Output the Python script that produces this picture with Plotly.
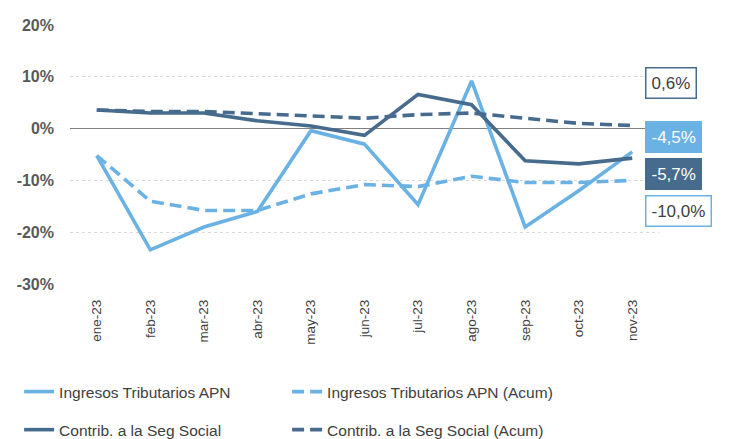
import plotly.graph_objects as go

months = ["ene-23", "feb-23", "mar-23", "abr-23", "may-23", "jun-23",
          "jul-23", "ago-23", "sep-23", "oct-23", "nov-23"]
ingresos = [-5.2, -23.4, -19.0, -16.0, -0.4, -3.0, -14.7, 9.2, -19.0, -12.0, -4.5]
ingresos_acum = [-5.2, -14.0, -15.8, -15.8, -12.6, -10.8, -11.2, -9.2, -10.4, -10.4, -10.0]
contrib = [3.6, 3.0, 3.0, 1.5, 0.5, -1.3, 6.6, 4.6, -6.2, -6.8, -5.7]
contrib_acum = [3.6, 3.3, 3.3, 2.9, 2.4, 2.0, 2.7, 3.0, 2.0, 1.0, 0.6]
y_ticks = [-30, -20, -10, 0, 10, 20]
y_tick_labels = ["-30%", "-20%", "-10%", "0%", "10%", "20%"]

LIGHT = "#6AB2E4"
DARK = "#466B8D"
FONT = "Liberation Sans, Arial, sans-serif"

fig = go.Figure()
series = [
    ("Ingresos Tributarios APN", ingresos, LIGHT, "solid", "legend"),
    ("Ingresos Tributarios APN (Acum)", ingresos_acum, LIGHT, "12px,6px", "legend"),
    ("Contrib. a la Seg Social", contrib, DARK, "solid", "legend2"),
    ("Contrib. a la Seg Social (Acum)", contrib_acum, DARK, "12px,6px", "legend2"),
]
for name, vals, col, dash, leg in series:
    fig.add_trace(go.Scatter(x=months, y=vals, mode="lines", name=name,
                             line=dict(color=col, width=3.6, dash=dash),
                             legend=leg))

# end labels
labels = [
    (contrib_acum, "white", DARK, "#404040", 42),
    (ingresos, LIGHT, LIGHT, "white", 15),
    (contrib, DARK, DARK, "white", -16),
    (ingresos_acum, "white", LIGHT, "#404040", -31),
]
for vals, bg, border, fc, ys in labels:
    txt = f"{vals[-1]:.1f}%".replace(".", ",")
    fig.add_annotation(x=months[-1], y=vals[-1], text=txt, showarrow=False,
                       xanchor="left", xshift=13, yshift=ys,
                       bgcolor=bg, bordercolor=border, borderwidth=1.5,
                       borderpad=5, font=dict(family=FONT, size=17, color=fc))

# the page body has an 8px default margin, so margins are shifted accordingly
fig.update_layout(
    width=731, height=439,
    margin=dict(l=62, r=80, t=17, b=163, autoexpand=False),
    plot_bgcolor="white", paper_bgcolor="white",
    font=dict(family=FONT, color="#595959"),
    xaxis=dict(type="category", range=[-0.5, 10.5], tickangle=-90,
               showgrid=False, tickfont=dict(size=13.5, color="#404040"),
               ticks="", showline=False, ticklabelstandoff=12),
    yaxis=dict(range=[-30, 20], tickvals=y_ticks, ticktext=y_tick_labels,
               showgrid=True, gridcolor="#D9D9D9", griddash="dot", gridwidth=1,
               zeroline=True, zerolinecolor="#808080", zerolinewidth=1.2,
               tickfont=dict(size=16, color="#595959", family=FONT, weight="bold"),
               ticklabelstandoff=15),
    legend=dict(orientation="h", x=-0.0864, xanchor="left", y=-0.417, yanchor="middle",
                entrywidth=223, font=dict(size=15.5, color="#404040")),
    legend2=dict(orientation="h", x=-0.0864, xanchor="left", y=-0.564, yanchor="middle",
                 entrywidth=223, font=dict(size=15.5, color="#404040")),
)

fig.write_html("out.html")
